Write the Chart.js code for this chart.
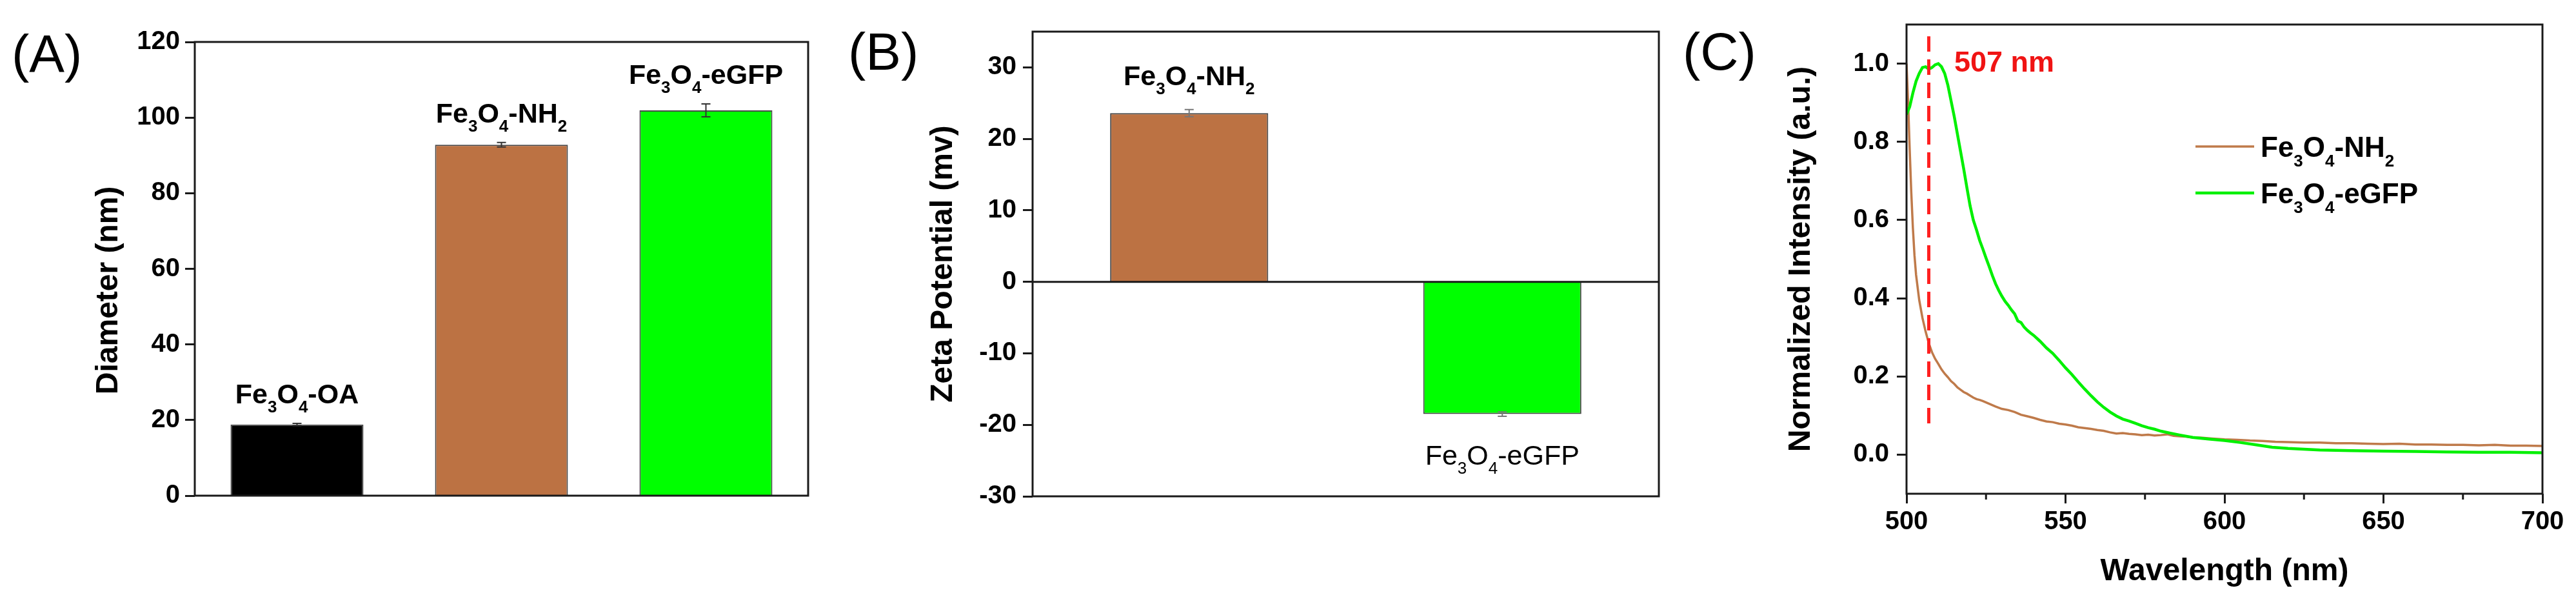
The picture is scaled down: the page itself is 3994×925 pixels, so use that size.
<!DOCTYPE html>
<html>
<head>
<meta charset="utf-8">
<script src="https://cdn.jsdelivr.net/npm/chart.js@4.4.1/dist/chart.umd.min.js"></script>
<style>
  html, body { margin: 0; padding: 0; background: #fff; }
  #wrap { position: relative; width: 3994px; height: 925px; overflow: hidden; background: #fff; }
  canvas { position: absolute; top: 0; }
  .tag { position: absolute; font: 82px 'Liberation Sans', Arial, sans-serif; line-height: 1; color: #000; }
</style>
</head>
<body>
<div id="wrap">
  <canvas id="chartA" width="1290" height="925" style="left:0px"></canvas>
  <canvas id="chartB" width="1310" height="925" style="left:1290px"></canvas>
  <canvas id="chartC" width="1394" height="925" style="left:2600px"></canvas>
  <div class="tag" style="left:18px; top:42px">(A)</div>
  <div class="tag" style="left:1315px; top:39px">(B)</div>
  <div class="tag" style="left:2609px; top:39px">(C)</div>
</div>
<script>
const FONT = "'Liberation Sans', Arial, sans-serif";
const INK = '#1a1a1a';

// (A) tamaño de partícula
const sizeLabels = ['Fe_3O_4-OA', 'Fe_3O_4-NH_2', 'Fe_3O_4-eGFP'];
const sizeValues = [18.8, 92.8, 101.9];
const sizeErrors = [0.3, 0.6, 1.7];
const sizeColors = ['#000000', '#bc7243', '#00ff00'];
const sizeTicks = [0, 20, 40, 60, 80, 100, 120];

// (B) potencial zeta
const zetaLabels = ['Fe_3O_4-NH_2', 'Fe_3O_4-eGFP'];
const zetaValues = [23.6, -18.5];
const zetaErrors = [0.5, 0.3];
const zetaColors = ['#bc7243', '#00ff00'];
const zetaTicks = [-30, -20, -10, 0, 10, 20, 30];

// (C) espectros normalizados
const wlNH2 = [500, 500.5, 501, 501.5, 502, 502.5, 503,
  504, 505, 506, 507, 508, 509, 510, 511, 512, 513, 514, 515, 516, 517, 518, 519, 520, 521, 522, 523, 524,
  526, 528, 530, 532, 534, 536, 538, 540, 542, 544, 546, 548, 550, 552, 554, 556, 558, 560, 562, 564, 566,
  568, 570, 572, 574, 576, 578, 580, 582, 584, 586, 588, 590,
  593, 596, 600, 604, 608, 612, 616, 620,
  625, 630, 635, 640, 645, 650, 655, 660, 665, 670, 675, 680, 685, 690, 695, 700];
const intNH2 = [1.0, 0.9, 0.78, 0.67, 0.58, 0.51, 0.46,
  0.395, 0.35, 0.315, 0.285, 0.262, 0.245, 0.232, 0.218, 0.207, 0.198, 0.188, 0.181, 0.172, 0.166, 0.16, 0.156, 0.151, 0.146, 0.142, 0.14, 0.137,
  0.13, 0.123, 0.117, 0.114, 0.109, 0.102, 0.098, 0.094, 0.089, 0.085, 0.083, 0.079, 0.077, 0.074, 0.07, 0.068, 0.066, 0.063, 0.061, 0.057, 0.054,
  0.055, 0.053, 0.052, 0.05, 0.051, 0.049, 0.05, 0.052, 0.048, 0.047, 0.046, 0.044,
  0.043, 0.041, 0.039, 0.038, 0.036, 0.035, 0.033, 0.032,
  0.031, 0.031, 0.029, 0.029, 0.028, 0.027, 0.028, 0.026, 0.026, 0.025, 0.025, 0.024, 0.025, 0.023, 0.023, 0.022];
const wlGFP = [500, 501, 502, 503, 504, 505, 506, 507, 508, 509, 510, 511, 512, 513, 514, 515, 516, 517, 518, 519, 520,
  521, 522, 523, 524, 525, 526, 527, 528, 529, 530, 531, 532, 533, 534, 535, 536, 537, 538, 539, 540,
  542, 544, 546, 548, 550, 552, 554, 556, 558, 560, 562, 564, 566, 568, 570, 572, 574, 576, 578, 580,
  583, 586, 590, 595, 600, 605, 610, 615, 620, 625, 630, 640, 650, 660, 670, 680, 690, 700];
const intGFP = [0.87, 0.89, 0.925, 0.955, 0.975, 0.99, 0.992, 0.986, 0.99, 0.997, 1.0, 0.992, 0.975, 0.945, 0.905, 0.865, 0.82, 0.775, 0.73, 0.682, 0.636,
  0.6, 0.575, 0.548, 0.526, 0.503, 0.481, 0.458, 0.437, 0.42, 0.405, 0.392, 0.382, 0.37, 0.36, 0.342, 0.338, 0.326, 0.318, 0.311, 0.305,
  0.29, 0.273, 0.259, 0.241, 0.222, 0.205, 0.186, 0.168, 0.151, 0.135, 0.121, 0.109, 0.099, 0.091, 0.086, 0.08, 0.074, 0.069, 0.065, 0.06,
  0.055, 0.05, 0.044, 0.04, 0.036, 0.031, 0.025, 0.019, 0.016, 0.014, 0.012, 0.01, 0.009, 0.008, 0.007, 0.006, 0.006, 0.005];
const peakWl = 507;
const peakLineY = [0.08, 1.07];
const wlTicks = [500, 550, 600, 650, 700];
const wlMinorTicks = [525, 575, 625, 675];
const intTicks = [0, 0.2, 0.4, 0.6, 0.8, 1.0];

Chart.defaults.font.family = FONT;
Chart.defaults.color = '#000';

// texto con subíndices: "Fe_3O_4" -> Fe₃O₄
function drawChem(ctx, s, x, y, size, align, weight) {
  const runs = s.split(/(_\d)/).filter(Boolean).map(p => p[0] === '_' ? { t: p.slice(1), sub: true } : { t: p, sub: false });
  const big = `${weight} ${size}px ${FONT}`;
  const small = `${weight} ${Math.round(size * 0.6)}px ${FONT}`;
  let w = 0;
  runs.forEach(r => { ctx.font = r.sub ? small : big; r.w = ctx.measureText(r.t).width; w += r.w; });
  let cx = align === 'center' ? x - w / 2 : x;
  ctx.textAlign = 'left';
  ctx.textBaseline = 'alphabetic';
  runs.forEach(r => {
    ctx.font = r.sub ? small : big;
    ctx.fillText(r.t, cx, r.sub ? y + size * 0.33 : y);
    cx += r.w;
  });
}

const framePlugin = {
  id: 'frame',
  afterDraw(chart) {
    const { ctx, chartArea: a } = chart;
    ctx.save();
    ctx.strokeStyle = INK;
    ctx.lineWidth = 3;
    ctx.strokeRect(a.left, a.top, a.right - a.left, a.bottom - a.top);
    ctx.restore();
  }
};

// barras de error + etiquetas encima/debajo de cada barra
const barNotes = {
  id: 'barNotes',
  afterDatasetsDraw(chart, args, opts) {
    const { ctx, chartArea: a } = chart;
    const y = chart.scales.y;
    const vals = chart.data.datasets[0].data;
    ctx.save();
    if (opts.zeroLine) {
      const y0 = y.getPixelForValue(0);
      ctx.strokeStyle = INK;
      ctx.lineWidth = 3;
      ctx.beginPath(); ctx.moveTo(a.left, y0); ctx.lineTo(a.right, y0); ctx.stroke();
    }
    chart.getDatasetMeta(0).data.forEach((bar, i) => {
      const v = vals[i], e = opts.errors[i];
      const yHi = y.getPixelForValue(v + e), yLo = y.getPixelForValue(v - e);
      ctx.strokeStyle = opts.errColor;
      ctx.lineWidth = 2;
      ctx.beginPath();
      ctx.moveTo(bar.x, yHi); ctx.lineTo(bar.x, yLo);
      ctx.moveTo(bar.x - 7, yHi); ctx.lineTo(bar.x + 7, yHi);
      ctx.moveTo(bar.x - 7, yLo); ctx.lineTo(bar.x + 7, yLo);
      ctx.stroke();
      ctx.fillStyle = '#000';
      if (v >= 0) drawChem(ctx, chart.data.labels[i], bar.x, yHi - opts.gapUp, opts.size, 'center', 'bold');
      else drawChem(ctx, chart.data.labels[i], bar.x, yLo + opts.gapDown, opts.size, 'center', opts.weightDown);
    });
    ctx.restore();
  }
};

// marcas menores, etiqueta del pico y leyenda del panel C
const spectrumNotes = {
  id: 'spectrumNotes',
  afterDraw(chart, args, opts) {
    const { ctx, chartArea: a, scales: { x, y } } = chart;
    ctx.save();
    ctx.strokeStyle = INK;
    ctx.lineWidth = 3;
    opts.minor.forEach(v => {
      const px = x.getPixelForValue(v);
      ctx.beginPath(); ctx.moveTo(px, a.bottom); ctx.lineTo(px, a.bottom + 9); ctx.stroke();
    });
    ctx.fillStyle = '#f01414';
    ctx.font = `bold 45px ${FONT}`;
    ctx.textAlign = 'left';
    ctx.textBaseline = 'middle';
    ctx.fillText(`${peakWl} nm`, x.getPixelForValue(opts.peakTextX), y.getPixelForValue(1.0));
    opts.legendRows.forEach((row, i) => {
      const ds = chart.data.datasets[row];
      const ly = opts.legendY[i];
      ctx.strokeStyle = ds.borderColor;
      ctx.lineWidth = ds.borderWidth;
      ctx.beginPath(); ctx.moveTo(opts.legendX, ly); ctx.lineTo(opts.legendX + 91, ly); ctx.stroke();
      ctx.fillStyle = '#000';
      drawChem(ctx, ds.label, opts.legendX + 101, ly + 16, 44, 'left', 'bold');
    });
    ctx.restore();
  }
};

function yAxis(min, max, ticks, width, title, titlePad, tickPad, fmt) {
  return {
    min: min, max: max,
    afterFit: s => { s.width = width; },
    afterBuildTicks: s => { s.ticks = ticks.map(v => ({ value: v })); },
    border: { display: false },
    grid: { drawOnChartArea: false, tickLength: 15, tickWidth: 3, tickColor: INK },
    ticks: { font: { size: 40, weight: 'bold' }, color: '#000', padding: tickPad, callback: fmt || (v => v) },
    title: { display: true, text: title, color: '#000', font: { size: 48, weight: 'bold' }, padding: { top: titlePad, bottom: 0 } }
  };
}

const common = {
  responsive: false,
  animation: false,
  devicePixelRatio: 1,
  events: []
};

new Chart(document.getElementById('chartA'), {
  type: 'bar',
  data: {
    labels: sizeLabels,
    datasets: [{ data: sizeValues, backgroundColor: sizeColors, borderColor: '#4a4a4a', borderWidth: 2, barPercentage: 0.65, categoryPercentage: 1 }]
  },
  options: Object.assign({}, common, {
    layout: { padding: { left: 0, top: 65, right: 37, bottom: 157 } },
    scales: {
      x: { display: false },
      // espacios finales: bajan el título, como en el original
      y: yAxis(0, 120, sizeTicks, 302, 'Diameter (nm)     ', 140, 8)
    },
    plugins: {
      legend: { display: false }, tooltip: { enabled: false },
      barNotes: { errors: sizeErrors, errColor: '#333', gapUp: 31, gapDown: 0, size: 43, weightDown: 'bold' }
    }
  }),
  plugins: [barNotes, framePlugin]
});

new Chart(document.getElementById('chartB'), {
  type: 'bar',
  data: {
    labels: zetaLabels,
    datasets: [{ data: zetaValues, backgroundColor: zetaColors, borderColor: '#4a4a4a', borderWidth: 2, barPercentage: 0.505, categoryPercentage: 1 }]
  },
  options: Object.assign({}, common, {
    layout: { padding: { left: 0, top: 49, right: 28, bottom: 156 } },
    scales: {
      x: { display: false },
      y: yAxis(-30, 35, zetaTicks, 311, 'Zeta Potential (mv)', 144, 10)
    },
    plugins: {
      legend: { display: false }, tooltip: { enabled: false },
      barNotes: { zeroLine: true, errors: zetaErrors, errColor: '#777', gapUp: 38, gapDown: 75, size: 43, weightDown: 'normal' }
    }
  }),
  plugins: [barNotes, framePlugin]
});

new Chart(document.getElementById('chartC'), {
  type: 'line',
  data: {
    datasets: [
      { label: 'peak', data: [{ x: peakWl, y: peakLineY[0] }, { x: peakWl, y: peakLineY[1] }], borderColor: '#ff2020', borderWidth: 5, borderDash: [24, 12], pointRadius: 0 },
      { label: 'Fe_3O_4-eGFP', data: wlGFP.map((w, i) => ({ x: w, y: intGFP[i] })), borderColor: '#00f000', borderWidth: 4.5, pointRadius: 0, tension: 0 },
      { label: 'Fe_3O_4-NH_2', data: wlNH2.map((w, i) => ({ x: w, y: intNH2[i] })), borderColor: '#bf7a4a', borderWidth: 3.5, pointRadius: 0, tension: 0 }
    ]
  },
  options: Object.assign({}, common, {
    layout: { padding: { left: 0, top: 38, right: 52, bottom: 0 } },
    scales: {
      x: {
        type: 'linear', min: 500, max: 700,
        afterFit: s => { s.height = 160; },
        afterBuildTicks: s => { s.ticks = wlTicks.map(v => ({ value: v })); },
        border: { display: false },
        grid: { drawOnChartArea: false, tickLength: 15, tickWidth: 3, tickColor: INK },
        ticks: { font: { size: 40, weight: 'bold' }, color: '#000', padding: 5, autoSkip: false, maxRotation: 0, callback: v => v },
        title: { display: true, text: 'Wavelength (nm)', color: '#000', font: { size: 48, weight: 'bold' }, padding: { top: 0, bottom: 10 } }
      },
      y: yAxis(-0.1, 1.1, intTicks, 356, 'Normalized Intensity (a.u.)', 164, 12, v => v.toFixed(1))
    },
    plugins: {
      legend: { display: false }, tooltip: { enabled: false },
      spectrumNotes: { minor: wlMinorTicks, peakTextX: 515, legendX: 804, legendY: [227, 299], legendRows: [2, 1] }
    }
  }),
  plugins: [spectrumNotes, framePlugin]
});
</script>
</body>
</html>
